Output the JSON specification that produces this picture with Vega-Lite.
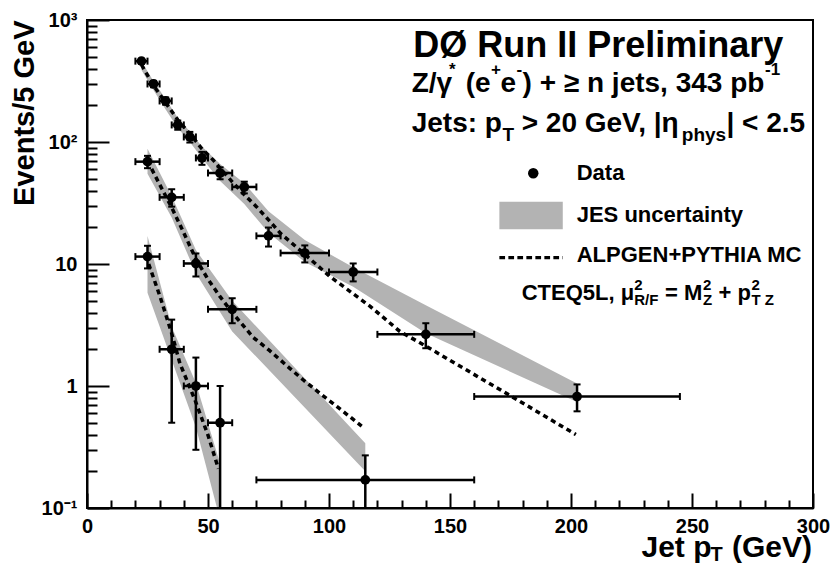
{
  "$schema": "https://vega.github.io/schema/vega-lite/v6.json",
  "width": 726,
  "height": 488,
  "autosize": {"type": "none"},
  "padding": {"left": 87, "top": 20, "right": 21, "bottom": 57},
  "background": "white",
  "config": {
    "view": {"stroke": "black", "strokeWidth": 2},
    "font": "Liberation Sans",
    "axis": {"labelFont": "Liberation Sans", "labelFontWeight": "bold", "labelColor": "black", "tickColor": "black", "domainColor": "black", "grid": false, "titleFont": "Liberation Sans", "titleFontWeight": "bold", "titleColor": "black"},
    "text": {"font": "Liberation Sans", "fontWeight": "bold", "color": "black", "baseline": "alphabetic", "align": "left"}
  },
  "datasets": {
    "pts": [
      {"series": 1, "x": 22.5, "xlo": 20, "xhi": 25, "y": 460, "ylo": 438, "yhi": 482},
      {"series": 1, "x": 27.5, "xlo": 25, "xhi": 30, "y": 299, "ylo": 281, "yhi": 317},
      {"series": 1, "x": 32.5, "xlo": 30, "xhi": 35, "y": 217, "ylo": 202, "yhi": 232},
      {"series": 1, "x": 37.5, "xlo": 35, "xhi": 40, "y": 138, "ylo": 126, "yhi": 150},
      {"series": 1, "x": 42.5, "xlo": 40, "xhi": 45, "y": 110, "ylo": 99, "yhi": 121},
      {"series": 1, "x": 47.5, "xlo": 45, "xhi": 50, "y": 74, "ylo": 65, "yhi": 83},
      {"series": 1, "x": 55, "xlo": 50, "xhi": 60, "y": 55.7, "ylo": 49.5, "yhi": 62},
      {"series": 1, "x": 65, "xlo": 60, "xhi": 70, "y": 42.8, "ylo": 37.9, "yhi": 47.3},
      {"series": 1, "x": 75, "xlo": 70, "xhi": 80, "y": 17, "ylo": 13.9, "yhi": 19.9},
      {"series": 1, "x": 90, "xlo": 80, "xhi": 100, "y": 12.3, "ylo": 10.3, "yhi": 14.2},
      {"series": 1, "x": 110, "xlo": 100, "xhi": 120, "y": 8.6, "ylo": 7.2, "yhi": 10.1},
      {"series": 1, "x": 140, "xlo": 120, "xhi": 160, "y": 2.65, "ylo": 2.04, "yhi": 3.27},
      {"series": 1, "x": 202.5, "xlo": 160, "xhi": 245, "y": 0.82, "ylo": 0.62, "yhi": 1.03},
      {"series": 2, "x": 25, "xlo": 20, "xhi": 30, "y": 69, "ylo": 61, "yhi": 77},
      {"series": 2, "x": 35, "xlo": 30, "xhi": 40, "y": 35.2, "ylo": 29.5, "yhi": 41},
      {"series": 2, "x": 45, "xlo": 40, "xhi": 50, "y": 10.1, "ylo": 7.9, "yhi": 12.2},
      {"series": 2, "x": 60, "xlo": 50, "xhi": 70, "y": 4.25, "ylo": 3.27, "yhi": 5.24},
      {"series": 2, "x": 115, "xlo": 70, "xhi": 160, "y": 0.17, "ylo": 0.1, "yhi": 0.27},
      {"series": 3, "x": 25, "xlo": 20, "xhi": 30, "y": 11.5, "ylo": 9.2, "yhi": 14.1},
      {"series": 3, "x": 35, "xlo": 30, "xhi": 40, "y": 2.0, "ylo": 0.5, "yhi": 3.5},
      {"series": 3, "x": 45, "xlo": 40, "xhi": 50, "y": 1.0, "ylo": 0.3, "yhi": 1.71},
      {"series": 3, "x": 55, "xlo": 50, "xhi": 60, "y": 0.5, "ylo": 0.1, "yhi": 1.0}
    ],
    "mc": [
      {"series": 1, "x": 22.5, "y": 430}, {"series": 1, "x": 27.5, "y": 290}, {"series": 1, "x": 32.5, "y": 210},
      {"series": 1, "x": 37.5, "y": 152}, {"series": 1, "x": 42.5, "y": 117}, {"series": 1, "x": 47.5, "y": 88},
      {"series": 1, "x": 52.2, "y": 71}, {"series": 1, "x": 55, "y": 61}, {"series": 1, "x": 60.5, "y": 46},
      {"series": 1, "x": 65, "y": 37}, {"series": 1, "x": 70, "y": 29.5}, {"series": 1, "x": 75, "y": 23},
      {"series": 1, "x": 80, "y": 17.8}, {"series": 1, "x": 88, "y": 13}, {"series": 1, "x": 100.4, "y": 7.9},
      {"series": 1, "x": 110, "y": 5.7}, {"series": 1, "x": 117, "y": 4.5}, {"series": 1, "x": 129.3, "y": 2.8},
      {"series": 1, "x": 139, "y": 2.18}, {"series": 1, "x": 175.5, "y": 0.82}, {"series": 1, "x": 202, "y": 0.4},
      {"series": 2, "x": 25, "y": 70}, {"series": 2, "x": 30, "y": 45}, {"series": 2, "x": 35, "y": 29},
      {"series": 2, "x": 40, "y": 18}, {"series": 2, "x": 45, "y": 11}, {"series": 2, "x": 50, "y": 7.5},
      {"series": 2, "x": 55, "y": 5.4}, {"series": 2, "x": 60, "y": 4.0}, {"series": 2, "x": 68.7, "y": 2.5},
      {"series": 2, "x": 75.6, "y": 1.94}, {"series": 2, "x": 82.5, "y": 1.47}, {"series": 2, "x": 89.4, "y": 1.12},
      {"series": 2, "x": 96.3, "y": 0.87}, {"series": 2, "x": 103.2, "y": 0.68}, {"series": 2, "x": 113.5, "y": 0.47},
      {"series": 3, "x": 25.5, "y": 10}, {"series": 3, "x": 30.2, "y": 5.4}, {"series": 3, "x": 35, "y": 2.7},
      {"series": 3, "x": 38.4, "y": 1.53}, {"series": 3, "x": 44.6, "y": 0.77}, {"series": 3, "x": 50.1, "y": 0.39},
      {"series": 3, "x": 54.3, "y": 0.21}
    ],
    "band": [
      {"series": 1, "x": 22.5, "lo": 390, "hi": 460}, {"series": 1, "x": 27.5, "lo": 265, "hi": 315},
      {"series": 1, "x": 32.5, "lo": 185, "hi": 225}, {"series": 1, "x": 37.5, "lo": 130, "hi": 158},
      {"series": 1, "x": 42.5, "lo": 100, "hi": 122}, {"series": 1, "x": 47.5, "lo": 74, "hi": 92},
      {"series": 1, "x": 55, "lo": 48, "hi": 66}, {"series": 1, "x": 65, "lo": 31, "hi": 46},
      {"series": 1, "x": 75, "lo": 18, "hi": 27}, {"series": 1, "x": 90, "lo": 10.4, "hi": 15.7},
      {"series": 1, "x": 110, "lo": 6.5, "hi": 9.4}, {"series": 1, "x": 140, "lo": 2.7, "hi": 4.6},
      {"series": 1, "x": 202.5, "lo": 0.74, "hi": 1.05},
      {"series": 2, "x": 25, "lo": 55, "hi": 88}, {"series": 2, "x": 35, "lo": 24, "hi": 36},
      {"series": 2, "x": 45, "lo": 8.4, "hi": 13}, {"series": 2, "x": 60, "lo": 2.8, "hi": 5.0},
      {"series": 2, "x": 115, "lo": 0.2, "hi": 0.34},
      {"series": 3, "x": 25, "lo": 5.8, "hi": 17}, {"series": 3, "x": 35, "lo": 1.63, "hi": 3.06},
      {"series": 3, "x": 45, "lo": 0.46, "hi": 1.06}, {"series": 3, "x": 55, "lo": 0.08, "hi": 0.23}
    ],
    "legDot": [{"x": 184.4, "y": 55.4}],
    "legBox": [{"x": 170.4, "x2": 196.6, "y": 19.25, "y2": 32.4}],
    "legLine": [{"x": 170.4, "x2": 196.6, "y": 11.27}],
    "tTitle": [{"x": 134.8, "y": 500, "t": "DØ Run II Preliminary"}],
    "tMain": [
      {"x": 134.17, "y": 258.4, "t": "Z/γ"},
      {"x": 156.5, "y": 258.4, "t": "(e"},
      {"x": 170.9, "y": 258.4, "t": "e"},
      {"x": 180.0, "y": 258.4, "t": ") + ≥ n jets, 343 pb"},
      {"x": 134.17, "y": 121.5, "t": "Jets: p"},
      {"x": 179.63, "y": 121.5, "t": "> 20 GeV, |η"},
      {"x": 264.26, "y": 121.5, "t": "| < 2.5"}
    ],
    "tSup": [
      {"x": 149.6, "y": 354, "t": "*"},
      {"x": 166.9, "y": 354, "t": "+"},
      {"x": 177.5, "y": 354, "t": "-"},
      {"x": 280.2, "y": 354, "t": "-1"}
    ],
    "tSub": [
      {"x": 171.7, "y": 101.9, "t": "T"},
      {"x": 245.79, "y": 101.9, "t": "phys"}
    ],
    "tLeg": [
      {"x": 202.36, "y": 48.8, "t": "Data"},
      {"x": 202.36, "y": 22.2, "t": "JES uncertainty"},
      {"x": 202.36, "y": 10.44, "t": "ALPGEN+PYTHIA MC"},
      {"x": 179.63, "y": 5.07, "t": "CTEQ5L, μ"},
      {"x": 238.88, "y": 5.07, "t": "= M"},
      {"x": 260.99, "y": 5.07, "t": "+ p"}
    ],
    "tScript": [
      {"x": 226.12, "y": 6.12, "t": "2"},
      {"x": 226.12, "y": 4.61, "t": "R/F"},
      {"x": 254.55, "y": 6.12, "t": "2"},
      {"x": 254.55, "y": 4.61, "t": "Z"},
      {"x": 274.59, "y": 6.12, "t": "2"},
      {"x": 274.59, "y": 4.61, "t": "T Z"}
    ],
    "tXMain": [
      {"x": 299.59, "y": 0.0399, "t": "(GeV)"},
      {"x": 258.06, "y": 0.0399, "t": "Jet p"}
    ],
    "tXSub": [{"x": 262.69, "y": 0.0365, "t": "T"}]
  },
  "resolve": {"axis": {"x": "independent", "y": "independent"}},
  "layer": [
    {
      "data": {"name": "band"},
      "mark": {"type": "area", "color": "#b3b3b3", "opacity": 1, "clip": true},
      "encoding": {
        "x": {"field": "x", "type": "quantitative", "scale": {"domain": [0, 300], "nice": false, "zero": false},
          "axis": {"orient": "bottom", "values": [0, 50, 100, 150, 200, 250, 300], "tickSize": -15, "tickWidth": 2, "domainWidth": 2, "labelFontSize": 20, "labelPadding": 23, "labelFlush": false, "labelOverlap": false, "title": null}},
        "y": {"field": "hi", "type": "quantitative", "scale": {"type": "log", "domain": [0.1, 1000], "nice": false},
          "axis": {"orient": "left", "values": [0.1, 1, 10, 100, 1000], "tickSize": -22, "tickWidth": 2, "domainWidth": 2, "labelFontSize": 20, "labelPadding": 32, "labelOverlap": false,
            "labelExpr": "datum.value >= 999 ? '10\u00b3' : datum.value >= 99 ? '10\u00b2' : datum.value >= 9 ? '10\u2002' : datum.value >= 0.9 ? '1' : '10\u207b\u00b9'",
            "title": "Events/5 GeV", "titleFontSize": 29, "titleAnchor": "end", "titlePadding": 2}},
        "y2": {"field": "lo"},
        "detail": {"field": "series"}
      }
    },
    {
      "data": {"name": "mc"},
      "mark": {"type": "line", "color": "black", "strokeWidth": 3.5, "strokeDash": [5, 4], "clip": true},
      "encoding": {
        "x": {"field": "x", "type": "quantitative",
          "axis": {"orient": "bottom", "values": [10, 20, 30, 40, 60, 70, 80, 90, 110, 120, 130, 140, 160, 170, 180, 190, 210, 220, 230, 240, 260, 270, 280, 290], "tickSize": -8, "tickWidth": 2, "labels": false, "domain": false, "title": null}},
        "y": {"field": "y", "type": "quantitative",
          "axis": {"orient": "left", "values": [0.2, 0.3, 0.4, 0.5, 0.6, 0.7, 0.8, 0.9, 2, 3, 4, 5, 6, 7, 8, 9, 20, 30, 40, 50, 60, 70, 80, 90, 200, 300, 400, 500, 600, 700, 800, 900], "tickSize": -10, "tickWidth": 2, "labels": false, "domain": false, "title": null}},
        "detail": {"field": "series"}
      }
    },
    {
      "data": {"name": "pts"},
      "mark": {"type": "rule", "color": "black", "strokeWidth": 2.5},
      "encoding": {
        "x": {"field": "xlo", "type": "quantitative", "axis": null},
        "x2": {"field": "xhi"},
        "y": {"field": "y", "type": "quantitative", "axis": null}
      }
    },
    {
      "data": {"name": "pts"},
      "mark": {"type": "rule", "color": "black", "strokeWidth": 2.5},
      "encoding": {
        "x": {"field": "x", "type": "quantitative", "axis": null},
        "y": {"field": "ylo", "type": "quantitative", "axis": null},
        "y2": {"field": "yhi"}
      }
    },
    {
      "data": {"name": "pts"},
      "transform": [{"fold": ["xlo", "xhi"], "as": ["k", "xc"]}],
      "mark": {"type": "tick", "orient": "vertical", "color": "black", "size": 7, "thickness": 2, "opacity": 1},
      "encoding": {
        "x": {"field": "xc", "type": "quantitative", "axis": null},
        "y": {"field": "y", "type": "quantitative", "axis": null}
      }
    },
    {
      "data": {"name": "pts"},
      "transform": [{"fold": ["ylo", "yhi"], "as": ["k", "yc"]}],
      "mark": {"type": "tick", "orient": "horizontal", "color": "black", "size": 7, "thickness": 2, "opacity": 1},
      "encoding": {
        "x": {"field": "x", "type": "quantitative", "axis": null},
        "y": {"field": "yc", "type": "quantitative", "axis": null}
      }
    },
    {
      "data": {"name": "pts"},
      "mark": {"type": "point", "filled": true, "color": "black", "size": 95, "opacity": 1},
      "encoding": {
        "x": {"field": "x", "type": "quantitative", "axis": null},
        "y": {"field": "y", "type": "quantitative", "axis": null}
      }
    },
    {
      "data": {"name": "legDot"},
      "mark": {"type": "point", "filled": true, "color": "black", "size": 110, "opacity": 1},
      "encoding": {
        "x": {"field": "x", "type": "quantitative", "axis": null},
        "y": {"field": "y", "type": "quantitative", "axis": null}
      }
    },
    {
      "data": {"name": "legBox"},
      "mark": {"type": "rect", "color": "#b3b3b3", "opacity": 1},
      "encoding": {
        "x": {"field": "x", "type": "quantitative", "axis": null},
        "x2": {"field": "x2"},
        "y": {"field": "y", "type": "quantitative", "axis": null},
        "y2": {"field": "y2"}
      }
    },
    {
      "data": {"name": "legLine"},
      "mark": {"type": "rule", "color": "black", "strokeWidth": 3.3, "strokeDash": [5.7, 3.3]},
      "encoding": {
        "x": {"field": "x", "type": "quantitative", "axis": null},
        "x2": {"field": "x2"},
        "y": {"field": "y", "type": "quantitative", "axis": null}
      }
    },
    {
      "data": {"name": "tTitle"},
      "mark": {"type": "text", "fontSize": 36},
      "encoding": {
        "x": {"field": "x", "type": "quantitative", "axis": null},
        "y": {"field": "y", "type": "quantitative", "axis": null},
        "text": {"field": "t"}
      }
    },
    {
      "data": {"name": "tMain"},
      "mark": {"type": "text", "fontSize": 28},
      "encoding": {
        "x": {"field": "x", "type": "quantitative", "axis": null},
        "y": {"field": "y", "type": "quantitative", "axis": null},
        "text": {"field": "t"}
      }
    },
    {
      "data": {"name": "tSup"},
      "mark": {"type": "text", "fontSize": 17},
      "encoding": {
        "x": {"field": "x", "type": "quantitative", "axis": null},
        "y": {"field": "y", "type": "quantitative", "axis": null},
        "text": {"field": "t"}
      }
    },
    {
      "data": {"name": "tSub"},
      "mark": {"type": "text", "fontSize": 19},
      "encoding": {
        "x": {"field": "x", "type": "quantitative", "axis": null},
        "y": {"field": "y", "type": "quantitative", "axis": null},
        "text": {"field": "t"}
      }
    },
    {
      "data": {"name": "tLeg"},
      "mark": {"type": "text", "fontSize": 22},
      "encoding": {
        "x": {"field": "x", "type": "quantitative", "axis": null},
        "y": {"field": "y", "type": "quantitative", "axis": null},
        "text": {"field": "t"}
      }
    },
    {
      "data": {"name": "tScript"},
      "mark": {"type": "text", "fontSize": 15},
      "encoding": {
        "x": {"field": "x", "type": "quantitative", "axis": null},
        "y": {"field": "y", "type": "quantitative", "axis": null},
        "text": {"field": "t"}
      }
    },
    {
      "data": {"name": "tXMain"},
      "mark": {"type": "text", "fontSize": 30, "align": "right"},
      "encoding": {
        "x": {"field": "x", "type": "quantitative", "axis": null},
        "y": {"field": "y", "type": "quantitative", "axis": null},
        "text": {"field": "t"}
      }
    },
    {
      "data": {"name": "tXSub"},
      "mark": {"type": "text", "fontSize": 20, "align": "right"},
      "encoding": {
        "x": {"field": "x", "type": "quantitative", "axis": null},
        "y": {"field": "y", "type": "quantitative", "axis": null},
        "text": {"field": "t"}
      }
    }
  ]
}
